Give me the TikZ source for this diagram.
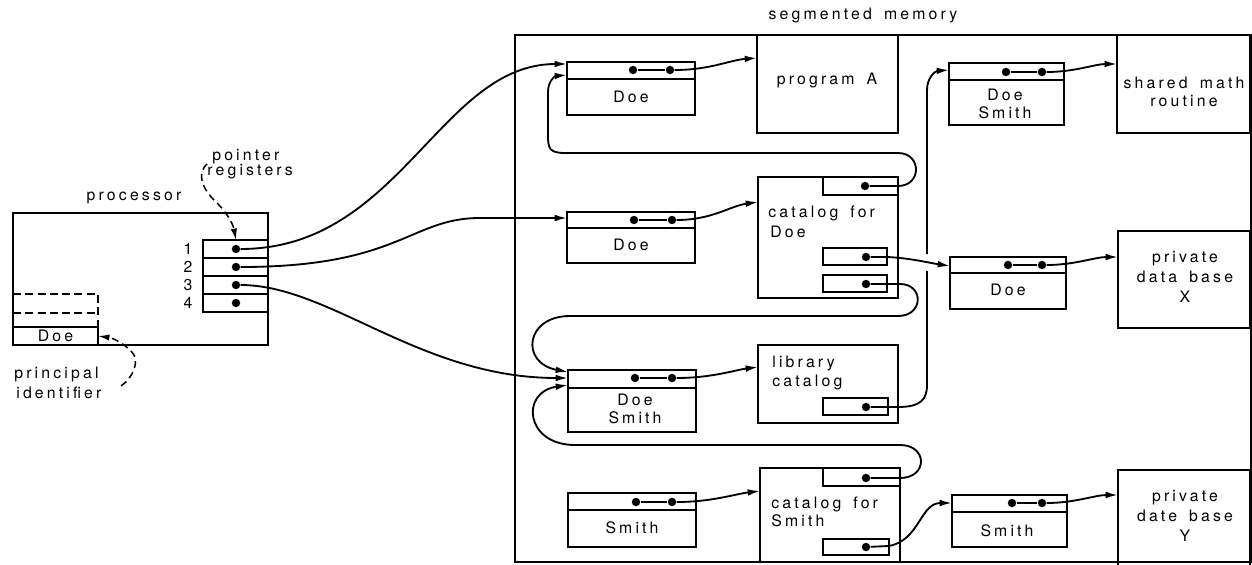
\documentclass[tikz,border=0pt]{standalone}
\usepackage{fontspec}
\setmainfont[LetterSpace=20,WordSpace=1.6]{TeX Gyre Heros}
\usetikzlibrary{arrows.meta}
\newcommand\upx{0.02cm}
\newcommand\bx[6][]{\node[box,#1, minimum width={#5*\upx}, minimum height={#6*\upx}] (#2) at (#3,#4) {};}
\newcommand\dv[2]{\draw[boxline] ([yshift=-#2*\upx]#1.north west) -- ([yshift=-#2*\upx]#1.north east);}
\begin{document}
\begin{tikzpicture}[x=0.02cm,y=-0.02cm,
  boxline/.style={line width=0.75pt},
  box/.style={draw, boxline, inner sep=0pt, outer sep=0pt, anchor=north west},
  lbl/.style={font=\fontsize{9}{10.2}\selectfont, inner sep=0pt, align=center},
  lblw/.style={lbl, anchor=west, align=left},
  con/.style={line width=1.05pt},
  arr/.style={con, -{Latex[length=7pt,width=3.8pt]}},
  dot/.style={circle, fill, inner sep=0pt, minimum size=4.8pt},
  annot/.style={line width=0.85pt, dash pattern=on 4pt off 2.5pt, -{Latex[length=6.5pt,width=3.6pt]}},
  dbox/.style={boxline, dash pattern=on 4.5pt off 2.5pt}]
\useasboundingbox (0,0) rectangle (1252,565);

% ---------- processor ----------
\bx{proc}{13}{213}{255}{132}
\node[lbl] (proclbl) at (134,198) {processor};
\bx{r1}{203}{240}{65}{18}
\bx{r2}{203}{258}{65}{18}
\bx{r3}{203}{276}{65}{18}
\bx{r4}{203}{294}{65}{18}
\node[lbl] (n1) at (188,249) {1};
\node[lbl] (n2) at (188,267) {2};
\node[lbl] (n3) at (188,285) {3};
\node[lbl] (n4) at (188,303) {4};
\node[dot] (p1) at (236,249) {};
\node[dot] (p2) at (236,267) {};
\node[dot] (p3) at (236,285) {};
\node[dot] (p4) at (236,303) {};
\bx{pid}{13}{327}{85}{18}
\draw[dbox] (proc.west |- 0,294) -- (pid.north east |- 0,294) -- (pid.north east);
\draw[dbox] (proc.west |- 0,313) -- (pid.north east |- 0,313);
\node[lbl] (pidt) at (pid.center) {Doe};
\node[lblw] (ptr1) at (212,157) {pointer};
\node[lblw] (ptr2) at (207,172) {registers};
\coordinate (ptrs) at (207,164);
\draw[annot] (ptrs) .. controls (198,172) and (200,186) .. (214,200) .. controls (227,212) and (233,224) .. (r1.north -| p1);
\node[lblw] (pr1) at (14,374) {principal};
\node[lblw] (pr2) at (16,393) {identifier};
\coordinate (prs) at (121,386);
\draw[annot] (prs) .. controls (133,378) and (141,360) .. (131,351) .. controls (123,343) and (113,338) .. (pid.east);

% ---------- memory ----------
\bx{mem}{515}{35}{736}{527}
\node[lbl] (memlbl) at (863,15) {segmented memory};

% descriptor boxes
\bx{dA}{567}{62}{128}{53}   \dv{dA}{17}
\node[lbl] at (631,97) {Doe};
\node[dot] (dAa) at (633,70) {}; \node[dot] (dAb) at (670,70) {};
\bx{dB}{567}{212}{128}{51}  \dv{dB}{16}
\node[lbl] at (631,245) {Doe};
\node[dot] (dBa) at (634,220) {}; \node[dot] (dBb) at (672,220) {};
\bx{dC}{568}{370}{128}{62}  \dv{dC}{18}
\node[lbl] at (635,409) {Doe\\Smith};
\node[dot] (dCa) at (635,378) {}; \node[dot] (dCb) at (672,378) {};
\bx{dD}{568}{493}{128}{54}  \dv{dD}{17}
\node[lbl] at (632,528) {Smith};
\node[dot] (dDa) at (636,502) {}; \node[dot] (dDb) at (672,502) {};
\bx{dE}{949}{63}{115}{62}   \dv{dE}{17}
\node[lbl] at (1005,104) {Doe\\Smith};
\node[dot] (dEa) at (1006,72) {}; \node[dot] (dEb) at (1042,72) {};
\bx{dF}{950}{257}{116}{52}  \dv{dF}{16}
\node[lbl] at (1008,290) {Doe};
\node[dot] (dFa) at (1008,265) {}; \node[dot] (dFb) at (1042,265) {};
\bx{dG}{952}{495}{115}{52}  \dv{dG}{17}
\node[lbl] at (1007,531) {Smith};
\node[dot] (dGa) at (1012,503) {}; \node[dot] (dGb) at (1042,503) {};

% segments
\bx{progA}{757}{35}{141}{98}
\node[lbl] at (827,80) {program A};
\bx{catD}{758}{177}{140}{121}
\bx{catDs}{823}{177}{75}{18}
\node[dot] (catDsd) at (865,186) {};
\node[lblw] at (768,213) {catalog for};
\node[lblw] at (770,232) {Doe};
\bx{sA}{823}{248}{64}{17}
\node[dot] (sAd) at (866,257) {};
\bx{sB}{823}{275}{64}{17}
\node[dot] (sBd) at (866,284) {};
\bx{lib}{758}{345}{140}{78}
\node[lblw] at (772,363) {library};
\node[lblw] at (772,382) {catalog};
\bx{libs}{823}{398}{65}{17}
\node[dot] (libsd) at (866,407) {};
\bx{catS}{760}{468}{140}{94}
\bx{catSs}{823}{468}{77}{18}
\node[dot] (catSsd) at (866,478) {};
\node[lblw] at (771,504) {catalog for};
\node[lblw] at (771,521) {Smith};
\bx{catSb}{823}{539}{66}{16}
\node[dot] (catSbd) at (866,547) {};
\bx{shared}{1117}{35}{133}{98}
\node[lbl] at (1184,92) {shared math\\routine};
\bx{privX}{1118}{231}{132}{97}
\node[lbl, font=\fontsize{9}{11.3}\selectfont] at (1185,277) {private\\data base\\X};
\bx{privY}{1118}{470}{132}{100}
\node[lbl, font=\fontsize{9}{11.3}\selectfont] at (1185,516) {private\\date base\\Y};

% ---------- connectors ----------
% registers
\draw[arr] (p1) .. controls (400,249) and (440,64) .. (dA.west |- 0,64);
\draw[arr] (p2) .. controls (400,267) and (410,218) .. (480,218) -- (dB.west |- 0,218);
\draw[arr] (p3) .. controls (330,285) and (420,378) .. (dC.west |- 0,378);

% dot pairs and pointers
\draw[con] (dAa) -- (dAb);
\draw[arr] (dAb) .. controls (710,70) and (730,60) .. (progA.west |- 0,58);
\draw[con] (dBa) -- (dBb);
\draw[arr] (dBb) .. controls (712,220) and (730,206) .. (catD.west |- 0,202);
\draw[con] (dCa) -- (dCb);
\draw[arr] (dCb) .. controls (712,378) and (735,370) .. (lib.west |- 0,367);
\draw[con] (dDa) -- (dDb);
\draw[arr] (dDb) .. controls (712,502) and (735,494) .. (catS.west |- 0,491);
\draw[con] (dEa) -- (dEb);
\draw[arr] (dEb) .. controls (1075,72) and (1095,64) .. (shared.west |- 0,64);
\draw[con] (dFa) -- (dFb);
\draw[arr] (dFb) .. controls (1075,265) and (1095,257) .. (privX.west |- 0,257);
\draw[con] (dGa) -- (dGb);
\draw[arr] (dGb) .. controls (1075,503) and (1095,495) .. (privY.west |- 0,495);

% catalog for Doe: top slot loops back to Doe (top)
\draw[arr] (catDsd) -- (898,186) .. controls (922,186) and (922,153) .. (898,153) -- (565,153)
  .. controls (549,153) and (548,148) .. (548,135) -- (548,92) .. controls (548,81) and (555,76) .. (dA.west |- 0,75);
% slot A to Doe (right)
\draw[arr] (sAd) -- (887,257) .. controls (910,258) and (930,263) .. (dF.west |- 0,266);
% slot B loop to Doe Smith
\draw[arr] (sBd) -- (900,284) .. controls (924,284) and (924,316) .. (898,316) -- (570,316)
  .. controls (525,316) and (520,363) .. (dC.west |- 0,372);
% library catalog slot to Doe Smith (top right)
\coordinate (gapB) at (927,271);
\coordinate (gapT) at (927,254);
\draw[con] (libsd) -- (898,407) .. controls (920,407) and (927,400) .. (927,385) -- (gapB);
\draw[arr] (gapT) -- (927,90) .. controls (927,78) and (935,71) .. (dE.west |- 0,70);
% catalog for Smith top slot loop to Doe Smith
\draw[arr] (catSsd) -- (900,478) .. controls (928,478) and (928,445) .. (900,445) -- (575,445)
  .. controls (525,445) and (520,392) .. (dC.west |- 0,385);
% catalog for Smith bottom slot to Smith (right)
\draw[arr] (catSbd) -- (889,546) .. controls (920,540) and (920,503) .. (dG.west |- 0,503);
\end{tikzpicture}
\end{document}
